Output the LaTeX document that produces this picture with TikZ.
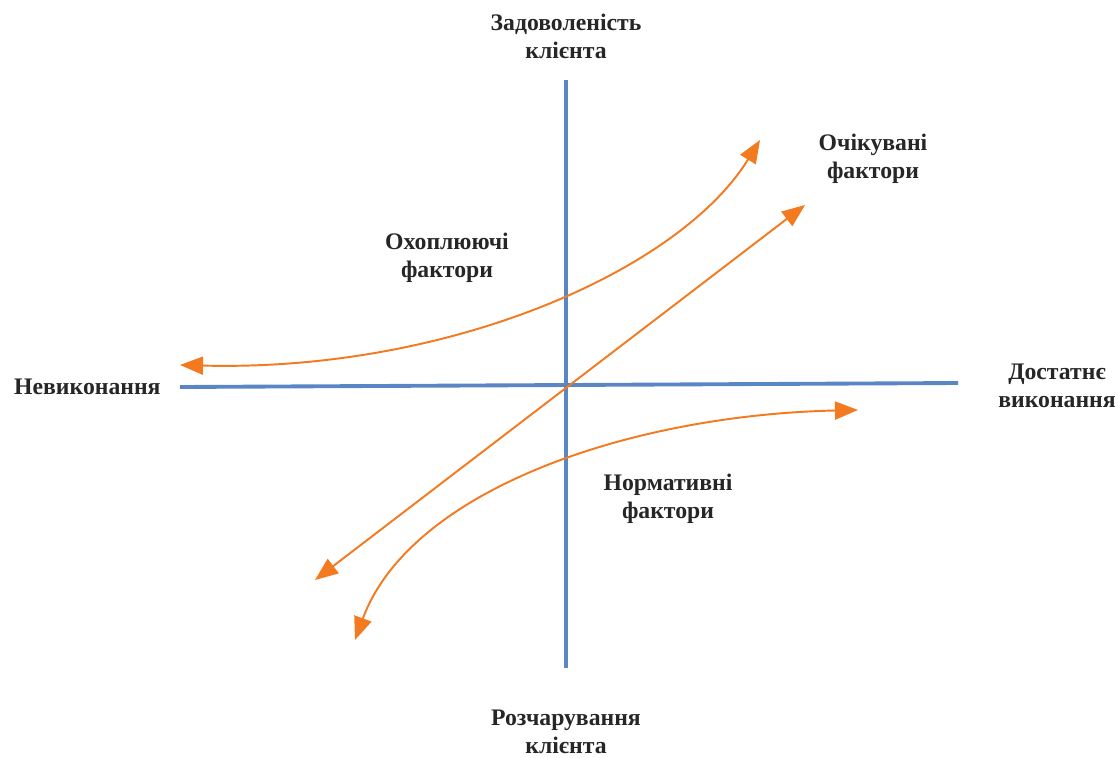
\documentclass[tikz,border=0pt]{standalone}
\usepackage{fontspec}
\setmainfont{Liberation Serif}
\usetikzlibrary{arrows.meta}
\definecolor{axisblue}{HTML}{5A86C5}
\definecolor{curveorange}{HTML}{F47A1F}
\tikzset{
  lbl/.style={align=center,font=\fontsize{13.5}{16}\selectfont\bfseries,text=black!85},
  axisline/.style={draw=axisblue,line width=2.2pt},
  factor/.style={draw=curveorange,line width=1.1pt,{Triangle[length=4.6mm,width=3.6mm]}-{Triangle[length=4.6mm,width=3.6mm]}}
}
\begin{document}
\begin{tikzpicture}[x=0.02cm,y=-0.02cm]

%SPACING
\useasboundingbox (0,0) rectangle (1118,757);
%SPACING

\node[lbl](sat) at (566,36) {Задоволеність\\клієнта};
\node[lbl](dis) at (566,732) {Розчарування\\клієнта};
\node[lbl,anchor=west](non) at (8,387) {Невиконання};
\node[lbl](full) at (1057,386) {Достатнє\\виконання};
\node[lbl](exc) at (447,258) {Охоплюючі\\фактори};
\node[lbl](exp) at (873,159) {Очікувані\\фактори};
\node[lbl](nrm) at (668,499) {Нормативні\\фактори};

\coordinate(ytop) at (566,80);
\coordinate(ybot) at (566,668);
\coordinate(xleft) at (180,387);
\coordinate(xright) at (958,383);

\coordinate(a1) at (180,365);
\coordinate(a2) at (760,140);
\coordinate(b1) at (315,580);
\coordinate(b2) at (805,205);
\coordinate(c1) at (355,640);
\coordinate(c2) at (858,410);

\draw[axisline] (ytop) -- (ybot);
\draw[axisline] (xleft) -- (xright);

\draw[factor] (a1) .. controls (450,372) and (680,270) .. (a2);
\draw[factor] (b1) -- (b2);
\draw[factor] (c1) .. controls (410,490) and (630,415) .. (c2);

\end{tikzpicture}
\end{document}
